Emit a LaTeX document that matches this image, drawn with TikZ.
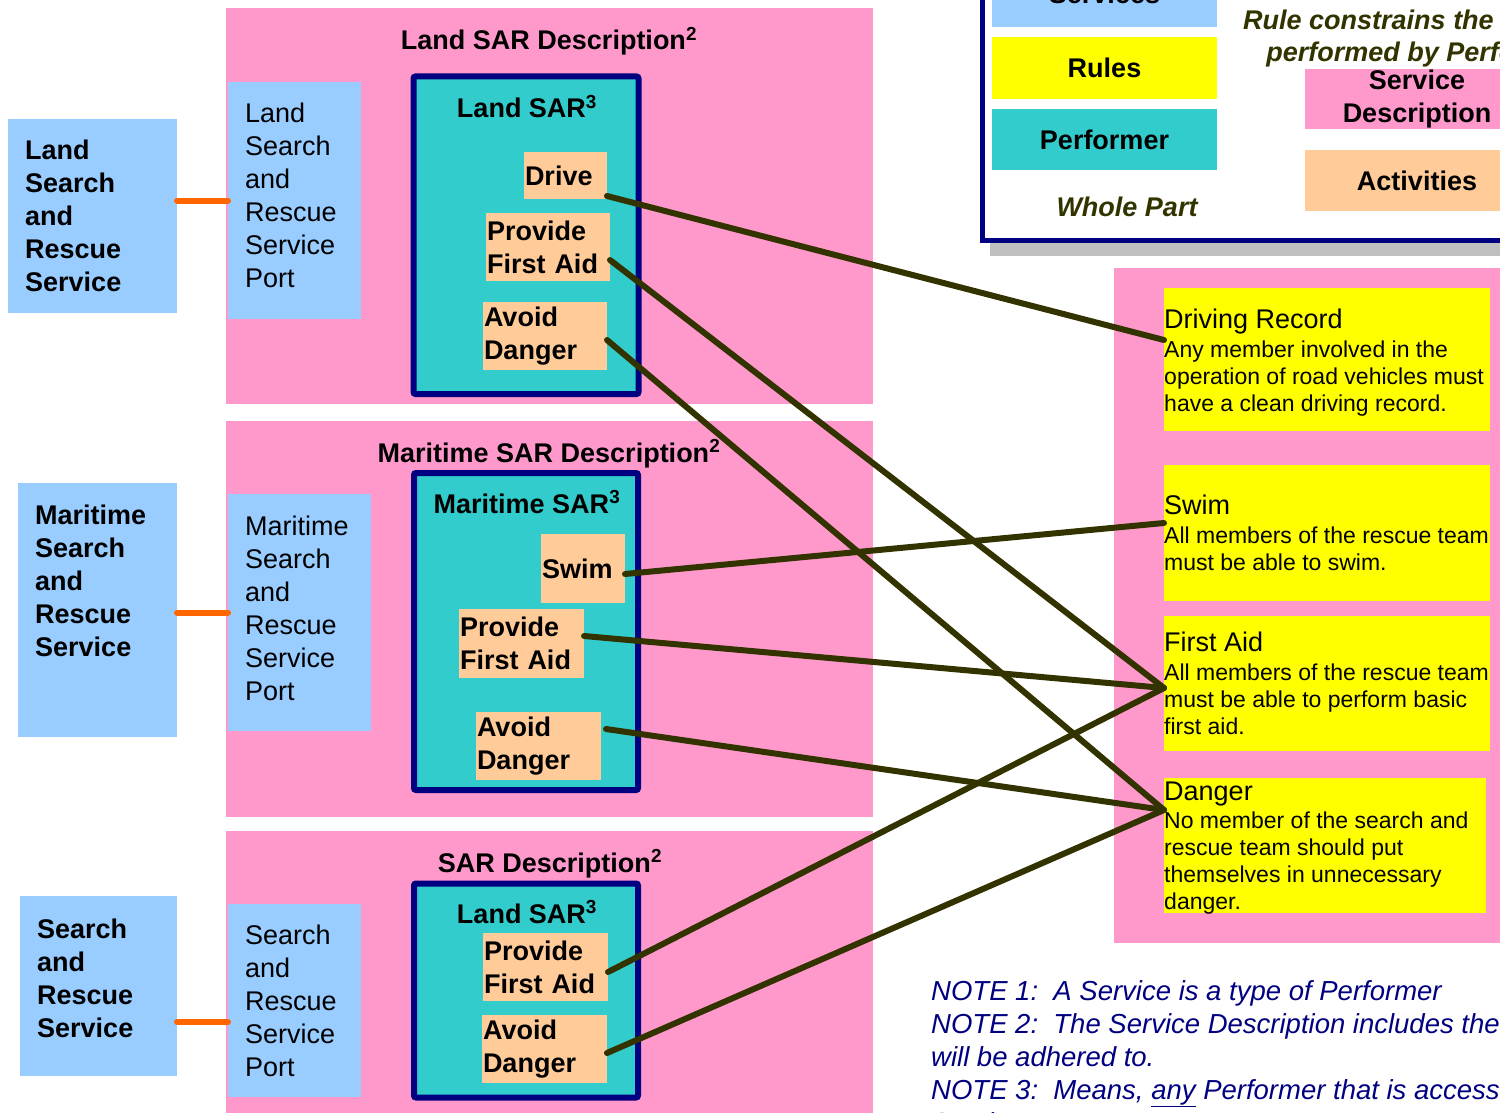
\documentclass[tikz,border=0pt]{standalone}
\usepackage{fontspec}
\setmainfont{Liberation Sans}
\usetikzlibrary{positioning}

\definecolor{portblue}{HTML}{99CCFF}
\definecolor{descpink}{HTML}{FF99CC}
\definecolor{perfteal}{HTML}{33CCCC}
\definecolor{perfnavy}{HTML}{000080}
\definecolor{actpeach}{HTML}{FFCC99}
\definecolor{ruleyellow}{HTML}{FFFF00}
\definecolor{linkolive}{HTML}{333300}
\definecolor{tieorange}{HTML}{FF6600}
\definecolor{shadowgray}{HTML}{C0C0C0}

\newcommand{\bigfont}{\fontsize{27}{33}\selectfont}
\newcommand{\rulefont}{\fontsize{23}{27.3}\selectfont}
\newcommand{\notefont}{\fontsize{27.5}{33}\selectfont}

\begin{document}
\begin{tikzpicture}[x=1pt, y=-1pt,
  plainbox/.style={inner sep=0pt, outer sep=0pt, anchor=north west},
  srsbox/.style={plainbox, fill=portblue},
  descbox/.style={plainbox, fill=descpink},
  perfbox/.style={plainbox, fill=perfteal, draw=perfnavy, line width=6pt, rounded corners=2pt},
  actbox/.style={fill=actpeach, anchor=north west, inner xsep=1pt, inner ysep=0pt, outer sep=0pt, align=left, font=\bigfont\bfseries},
  rulebox/.style={plainbox, fill=ruleyellow},
  boldlbl/.style={anchor=base west, align=left, inner sep=0pt, font=\bigfont\bfseries},
  portlbl/.style={anchor=base west, align=left, inner sep=0pt, font=\bigfont},
  titlelbl/.style={anchor=base, inner sep=0pt, font=\bigfont\bfseries},
  ruletitle/.style={anchor=base west, inner sep=0pt, font=\bigfont},
  ruletext/.style={anchor=base west, align=left, inner sep=0pt, font=\rulefont},
  legendlbl/.style={inner sep=0pt, outer sep=0pt, align=center, font=\bigfont\bfseries},
  notelbl/.style={anchor=base west, align=left, inner sep=0pt, font=\notefont\itshape, text=perfnavy},
  porttie/.style={draw=tieorange, line width=6pt, line cap=round},
  rulelink/.style={draw=linkolive, line width=6pt, line cap=round}]

  % page frame
  \useasboundingbox (0,0) rectangle (1500,1113);
  \clip (0,0) rectangle (1500,1113);

  % description panels
  \node[descbox, minimum width=647pt, minimum height=396pt] (landdesc) at (226,8) {};
  \node[descbox, minimum width=647pt, minimum height=396pt] (maridesc) at (226,421) {};
  \node[descbox, minimum width=647pt, minimum height=300pt] (sardesc) at (226,831) {};
  \node[descbox, minimum width=420pt, minimum height=675pt] (rulesdesc) at (1114,268) {};
  \node[titlelbl] (landdesctitle) at (549,50) {Land SAR Description\textsuperscript{2}};
  \node[titlelbl] (maridesctitle) at (549,462) {Maritime SAR Description\textsuperscript{2}};
  \node[titlelbl] (sardesctitle) at (550,872) {SAR Description\textsuperscript{2}};

  % services (multi-line labels sit on their last baseline)
  \node[srsbox, minimum width=169pt, minimum height=194pt] (landsrs) at (8,119) {};
  \node[boldlbl] (landsrslbl) at (25,291) {Land\\Search\\and\\Rescue\\Service};
  \node[srsbox, minimum width=159pt, minimum height=254pt] (marisrs) at (18,483) {};
  \node[boldlbl] (marisrslbl) at (35,656) {Maritime\\Search\\and\\Rescue\\Service};
  \node[srsbox, minimum width=157pt, minimum height=180pt] (sarsrs) at (20,896) {};
  \node[boldlbl] (sarsrslbl) at (37,1037) {Search\\and\\Rescue\\Service};

  % service ports
  \node[srsbox, minimum width=133pt, minimum height=237pt] (landport) at (228,82) {};
  \node[portlbl] (landportlbl) at (245,287) {Land\\Search\\and\\Rescue\\Service\\Port};
  \node[srsbox, minimum width=143pt, minimum height=237pt] (mariport) at (228,494) {};
  \node[portlbl] (mariportlbl) at (245,700) {Maritime\\Search\\and\\Rescue\\Service\\Port};
  \node[srsbox, minimum width=133pt, minimum height=193pt] (sarport) at (228,904) {};
  \node[portlbl] (sarportlbl) at (245,1076) {Search\\and\\Rescue\\Service\\Port};

  % service to port
  \draw[porttie] (landsrs.east |- landport.west) -- (landport.west);
  \draw[porttie] (marisrs.east |- mariport.west) -- (mariport.west);
  \coordinate (sartie) at ([yshift=-21.5pt]sarport.west);
  \draw[porttie] (sarsrs.east |- sartie) -- (sartie);

  % performers
  \node[perfbox, minimum width=225pt, minimum height=317.5pt] (landperf) at (413.5,76.5) {};
  \node[titlelbl] (landperftitle) at (527,118) {Land SAR\textsuperscript{3}};
  \node[perfbox, minimum width=224pt, minimum height=317pt] (mariperf) at (414,473) {};
  \node[titlelbl] (mariperftitle) at (527,513) {Maritime SAR\textsuperscript{3}};
  \node[perfbox, minimum width=224pt, minimum height=214pt] (sarperf) at (414,883.5) {};
  \node[titlelbl] (sarperftitle) at (527,923) {Land SAR\textsuperscript{3}};

  % activities
  \node[actbox, text width=81pt, minimum height=47pt] (ldrive) at (524,152) {Drive};
  \node[actbox, text width=122pt, minimum height=68pt] (lpfa) at (486,213) {Provide\\First Aid};
  \node[actbox, text width=122pt, minimum height=68pt] (lad) at (483,302) {Avoid\\Danger};
  \node[actbox, text width=82pt, minimum height=69pt] (mswim) at (541,534) {Swim};
  \node[actbox, text width=123pt, minimum height=69pt] (mpfa) at (459,609) {Provide\\First Aid};
  \node[actbox, text width=123pt, minimum height=68pt] (mad) at (476,712) {Avoid\\Danger};
  \node[actbox, text width=123pt, minimum height=68pt] (spfa) at (483,933) {Provide\\First Aid};
  \node[actbox, text width=123pt, minimum height=68pt] (sad) at (482,1015) {Avoid\\Danger};

  % rules
  \node[rulebox, minimum width=326pt, minimum height=143pt] (drrule) at (1164,288) {};
  \node[ruletitle] (drtitle) at (1164,328) {Driving Record};
  \node[ruletext] (drtext) at (1164,411.6) {Any member involved in the\\operation of road vehicles must\\have a clean driving record.};
  \node[rulebox, minimum width=326pt, minimum height=136pt] (swimrule) at (1164,465) {};
  \node[ruletitle] (swimtitle) at (1164,514) {Swim};
  \node[ruletext] (swimtext) at (1164,570.3) {All members of the rescue team\\must be able to swim.};
  \node[rulebox, minimum width=326pt, minimum height=135pt] (farule) at (1164,616) {};
  \node[ruletitle] (fatitle) at (1164,651) {First Aid};
  \node[ruletext] (fatext) at (1164,734.6) {All members of the rescue team\\must be able to perform basic\\first aid.};
  \node[rulebox, minimum width=322pt, minimum height=135pt] (dgrule) at (1164,778) {};
  \node[ruletitle] (dgtitle) at (1164,800) {Danger};
  \node[ruletext] (dgtext) at (1164,909.9) {No member of the search and\\rescue team should put\\themselves in unnecessary\\danger.};

  % legend
  \fill[shadowgray] (990,-20) rectangle (1530,256);
  \draw[perfnavy, line width=5pt, fill=white] (982.5,-20) rectangle (1530,240.5);
  \node[srsbox, minimum width=225pt, minimum height=47pt] (lgservices) at (992,-20) {};
  \node[legendlbl, anchor=base] (lgserviceslbl) at (1104.5,4) {Services};
  \node[legendlbl, fill=ruleyellow, minimum width=225pt, minimum height=62pt, anchor=north west] (lgrules) at (992,37) {Rules};
  \node[legendlbl, fill=perfteal, minimum width=225pt, minimum height=61pt, anchor=north west] (lgperf) at (992,109) {Performer};
  \node[legendlbl, text=linkolive, font=\bigfont\bfseries\itshape, anchor=base] (lgwhole) at (1127,216) {Whole Part};
  \node[legendlbl, text=linkolive, font=\fontsize{27}{32}\selectfont\bfseries\itshape, anchor=base] (lgconstrains) at (1421,62) {Rule constrains the Activity\\performed by Performer};
  \node[legendlbl, fill=descpink, minimum width=224pt, minimum height=60pt, anchor=north west] (lgdesc) at (1305,69) {Service\\Description};
  \node[legendlbl, fill=actpeach, minimum width=224pt, minimum height=61pt, anchor=north west] (lgact) at (1305,150) {Activities};

  % notes
  \node[notelbl] (notes) at (931,1132) {NOTE 1:\ \ A Service is a type of Performer\\NOTE 2:\ \ The Service Description includes the Rules that\\will be adhered to.\\NOTE 3:\ \ Means, \underline{any} Performer that is accessed via the\\Service};

  % activity to rule
  \draw[rulelink] ([yshift=3pt]ldrive.south east) -- ([yshift=19.5pt]drrule.west);
  \draw[rulelink] ([yshift=-13pt]lpfa.east) -- ([yshift=-4.5pt]farule.west);
  \draw[rulelink] ([yshift=-4pt]lad.east) -- ([yshift=35.5pt]dgrule.west);
  \draw[rulelink] ([yshift=-5.5pt]mswim.east) -- ([yshift=10pt]swimrule.west);
  \draw[rulelink] ([yshift=7.5pt]mpfa.east) -- ([yshift=-4.5pt]farule.west);
  \draw[rulelink] ([xshift=5pt,yshift=17pt]mad.east) -- ([yshift=35.5pt]dgrule.west);
  \draw[rulelink] ([yshift=-5pt]spfa.east) -- ([yshift=-4.5pt]farule.west);
  \draw[rulelink] ([yshift=-4pt]sad.east) -- ([yshift=35.5pt]dgrule.west);
\end{tikzpicture}
\end{document}
